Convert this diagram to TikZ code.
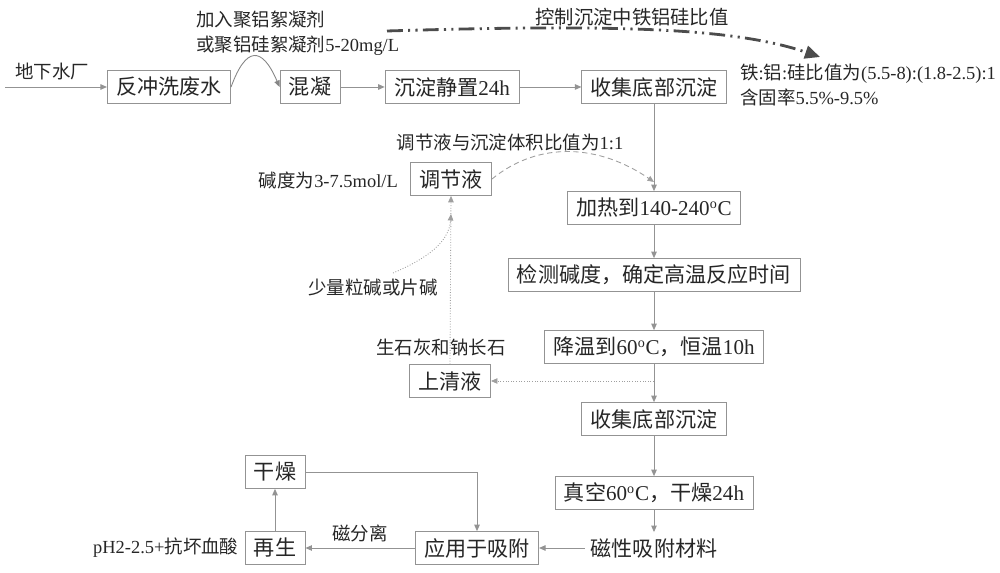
\documentclass[tikz,border=0pt]{standalone}
\usepackage{fontspec}
\setmainfont{Noto Sans CJK SC}
\newfontfamily\enfont{Liberation Serif}
\usepackage{tikz}
\usetikzlibrary{positioning,arrows.meta,calc}

\begin{document}
\begin{tikzpicture}[x=0.02cm, y=-0.02cm, font=\fontsize{10.5}{14}\selectfont, text=black!85,
  >={Triangle[length=1.3mm,width=1.1mm]},
  box/.style={draw=gray!85, font=\fontsize{12}{14}\selectfont, minimum height=0.66cm, inner xsep=0.18cm, fill=white},
  flow/.style={->, draw=gray!85, line width=0.5pt},
  aux/.style={->, draw=gray!75, line width=0.5pt, densely dotted}]
\useasboundingbox (0,0) rectangle (1000,573);
% top row
\coordinate (in) at (5,87);
\node (src) at (52,72) {地下水厂};
\node[box] (fx) at (169,87) {反冲洗废水};
\node[box] (hn) at (310,87) {混凝};
\node[box] (cd) at (452,87) {沉淀静置{\enfont 24h}};
\node[box] (sj1) at (654,87) {收集底部沉淀};
\node[anchor=west, align=left] (fl) at (190,33) {加入聚铝絮凝剂\\或聚铝硅絮凝剂{\enfont 5-20mg/L}};
\node[font=\fontsize{11}{14}\selectfont] (kz) at (632,17) {控制沉淀中铁铝硅比值};
\node[anchor=west, align=left] (tlg) at (734,85) {铁{\enfont :}铝{\enfont :}硅比值为{\enfont (5.5-8):(1.8-2.5):1}\\含固率{\enfont 5.5\%-9.5\%}};
\coordinate (cs) at (387,31);
\coordinate (ce) at (820,57);
\draw[flow] (in) -- (fx);
\draw[flow, draw=gray!95] (fx.east) .. controls (246,46) and (262,46) .. (hn.west);
\draw[flow] (hn) -- (cd);
\draw[flow] (cd) -- (sj1);
\draw[line width=1.6pt, draw=black!70, dash pattern=on 9pt off 3pt on 1.2pt off 3pt on 1.2pt off 3pt,
  -{Triangle[length=3mm,width=2.6mm]}] (cs) .. controls (620,24) and (735,28) .. (ce);
% main column
\node[box] (jr) at (654,208) {加热到{\enfont 140-240\textsuperscript{o}C}};
\node[box] (jc) at (654,275) {检测碱度，确定高温反应时间};
\node[box] (jw) at (654,347) {降温到{\enfont 60\textsuperscript{o}C}，恒温{\enfont 10h}};
\node[box] (sj2) at (654,419) {收集底部沉淀};
\node[box] (zk) at (654,493) {真空{\enfont 60\textsuperscript{o}C}，干燥{\enfont 24h}};
\node[font=\fontsize{12}{14}\selectfont] (cx) at (654,548) {磁性吸附材料};
\draw[flow] (sj1) -- (jr);
\draw[flow] (jr) -- (jc);
\draw[flow] (jc) -- (jw);
\draw[flow] (jw) -- (sj2);
\draw[flow] (sj2) -- (zk);
\draw[flow] (zk) -- (cx);
% adjusting liquid
\node[box] (tjy) at (451,179) {调节液};
\node[anchor=east] (jd) at (404,180) {碱度为{\enfont 3-7.5mol/L}};
\node (tjb) at (510,142) {调节液与沉淀体积比值为{\enfont 1:1}};
\node (sl) at (373,287) {少量粒碱或片碱};
\node (sh) at (441,347) {生石灰和钠长石};
\node[box] (sqy) at (450,381) {上清液};
\coordinate (m1) at (654,182);
\coordinate (m3) at (451,214);
\coordinate (m4) at (393,273);
\draw[->, draw=gray!75, line width=0.5pt, densely dashed] (tjy.east) .. controls (540,140) and (600,145) .. (m1);
\draw[aux] (sqy.east -| jw.south) -- (sqy.east);
\draw[aux] (sqy.north) -- (tjy.south);
\draw[aux] (m4) .. controls (428,258) and (449,242) .. (m3);
% reuse loop
\node[box] (yy) at (477,548) {应用于吸附};
\node[box] (zs) at (275,548) {再生};
\node[box] (gz) at (275,472) {干燥};
\node[anchor=east] (ph) at (zs.west) {{\enfont pH2-2.5+}抗坏血酸};
\draw[flow] (cx) -- (yy);
\draw[flow] (yy) -- node[above] {磁分离} (zs);
\draw[flow] (zs) -- (gz);
\draw[flow] (gz) -| (yy);
\end{tikzpicture}
\end{document}
